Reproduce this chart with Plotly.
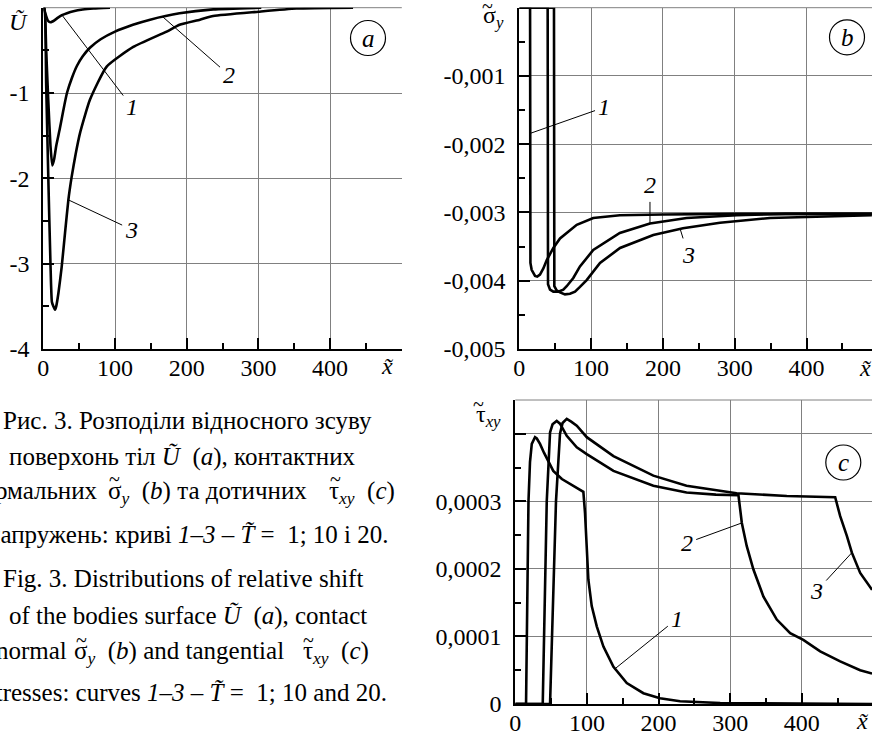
import plotly.graph_objects as go

W, H = 872, 739
FONT = "Liberation Serif, Times New Roman, serif"
FS = 24
CFS = 25

# ---------------- data ----------------
# (a) relative shift U~ ; curves 1-3 : T~ = 1, 10, 20
a_x1 = [0, 2, 4, 6, 8, 10, 12, 16, 20, 26, 33, 42, 55, 70, 93]
a_y1 = [0, -0.04, -0.10, -0.145, -0.165, -0.17, -0.165, -0.145, -0.12, -0.088, -0.065, -0.042, -0.022, -0.01, 0]
a_x2 = [0, 1.5, 4, 7, 10, 12.6, 15, 18, 23, 28, 33, 40, 47, 55, 65, 80, 100, 125, 149, 190, 237, 304]
a_y2 = [0, 0, -0.5, -1.1, -1.62, -1.85, -1.78, -1.62, -1.42, -1.2, -1.0, -0.82, -0.68, -0.57, -0.47, -0.37, -0.28, -0.2, -0.14, -0.066, -0.02, 0]
a_x3 = [0, 1.5, 4, 7, 10, 12, 14, 16.3, 18, 21, 25.6, 30.3, 35, 39.6, 45, 51.2, 65, 88.4, 125.5, 172, 190, 218.5, 237, 300, 353, 432]
a_y3 = [0, 0, -0.9, -2.0, -3.0, -3.45, -3.5, -3.54, -3.5, -3.35, -3.04, -2.64, -2.25, -1.98, -1.72, -1.47, -1.08, -0.69, -0.46, -0.28, -0.2, -0.14, -0.097, -0.047, -0.01, 0]

# (b) normal contact stress sigma_y
b_x1 = [0, 15, 15.5, 17.2, 21.9, 25, 28.8, 33.5, 38.1, 47.4, 56.7, 80, 103, 140, 200, 300, 491]
b_y1 = [0, 0, -0.00374, -0.00384, -0.00393, -0.00394, -0.00391, -0.00382, -0.0037, -0.00352, -0.00338, -0.00318, -0.00308, -0.00304, -0.00303, -0.00302, -0.00302]
b_x2 = [0, 39.5, 40, 42.8, 47.4, 54.3, 61.3, 66, 75.2, 84.5, 103, 140, 182, 233, 303, 371, 491]
b_y2 = [0, 0, -0.00405, -0.00413, -0.00416, -0.00416, -0.00413, -0.00408, -0.00396, -0.00379, -0.00355, -0.0033, -0.00316, -0.00308, -0.00304, -0.00302, -0.00302]
b_x3 = [0, 48.3, 48.8, 52, 56.7, 63.6, 70.6, 77.6, 84.5, 93.8, 112.4, 140.3, 186.6, 228, 279.5, 349, 491]
b_y3 = [0, 0, -0.00408, -0.00414, -0.00417, -0.0042, -0.00419, -0.00416, -0.00409, -0.00399, -0.00374, -0.00352, -0.00333, -0.00323, -0.00315, -0.00308, -0.00304]

# (c) tangential contact stress tau_xy
c_x1 = [0, 15, 18.4, 20.5, 23, 27.5, 30, 34.5, 40, 44, 53, 65, 81, 95, 97.3, 99.7, 102, 106.7, 113.7, 123, 137, 155.6, 178.8, 202, 230, 286, 332, 400, 498]
c_y1 = [0, 0, 0.000300, 0.000358, 0.000385, 0.000395, 0.000393, 0.000385, 0.000372, 0.000363, 0.000345, 0.000333, 0.000323, 0.000314,
        0.000283, 0.000234, 0.000184, 0.000145, 0.000115, 0.000085, 0.000055, 0.000031, 0.000016, 0.0000085, 0.000004, 0.0000015, 0.000001, 0.0000003, 0]
c_x2 = [0, 38.3, 43.9, 48.5, 52, 57.8, 62.4, 71.8, 85.8, 99.7, 137, 192.7, 239, 280, 311.5, 316.2, 323, 332.4, 346.4, 365, 383.7, 402, 425.6, 453.5, 481.4, 498]
c_y2 = [0, 0, 0.000300, 0.000402, 0.000414, 0.000419, 0.000415, 0.000397, 0.000380, 0.000370, 0.000345, 0.000323, 0.000313, 0.000310, 0.000309,
        0.000268, 0.000234, 0.000199, 0.000159, 0.000125, 0.000105, 0.000095, 0.000078, 0.000063, 0.000050, 0.000045]
c_x3 = [0, 48.5, 56.8, 62.4, 66, 71.8, 78, 85.8, 99.7, 137, 192.7, 239, 309, 379, 446.5, 453.5, 462.8, 469.8, 481.4, 498]
c_y3 = [0, 0, 0.000300, 0.000400, 0.000416, 0.000422, 0.000418, 0.000412, 0.000395, 0.000367, 0.000338, 0.000323, 0.000312, 0.000308, 0.000306,
        0.000278, 0.000249, 0.000224, 0.000194, 0.000169]

x_ticks = [0, 100, 200, 300, 400]
x_ticktext = ["0", "100", "200", "300", "400"]
a_yticks = [-4, -3, -2, -1, 0]
a_yticktext = ["-4", "-3", "-2", "-1", " "]
b_yticks = [-0.005, -0.004, -0.003, -0.002, -0.001, 0]
b_yticktext = ["-0,005", "-0,004", "-0,003", "-0,002", "-0,001", " "]
c_yticks = [0, 0.0001, 0.0002, 0.0003, 0.0004]
c_yticktext = ["0", "0,0001", "0,0002", "0,0003", " "]

# caption segments: (text, x_px, xanchor, y_px)
caption = [
    ("Рис. 3. Розподіли відносного зсуву", 0.7, "left", 420),
    ("поверхонь тіл <i>Ũ</i>  (<i>a</i>), контактних", 7.3, "left", 457),
    ("нормальних", 99.5, "right", 490),
    ("σ<sub><i>y</i></sub>  (<i>b</i>) та дотичних", 105.7, "left", 492),
    ("τ<sub><i>xy</i></sub>  (<i>c</i>)", 327, "left", 492),
    ("напружень: криві <i>1–3</i> – <i>T̃</i> =  1; 10 і 20.", 391, "right", 534),
    ("Fig. 3. Distributions of relative shift", 0.7, "left", 578),
    ("of the bodies surface <i>Ũ</i>  (<i>a</i>), contact", 7.3, "left", 615.5),
    ("normal", 69.3, "right", 650.5),
    ("σ<sub><i>y</i></sub>  (<i>b</i>) and tangential", 72.3, "left", 652.5),
    ("τ<sub><i>xy</i></sub>  (<i>c</i>)", 300.7, "left", 652.5),
    ("stresses: curves <i>1–3</i> – <i>T̃</i> =  1; 10 and 20.", 389, "right", 692),
]
# tildes over sigma / tau in the caption (x_px, y_px)
caption_tildes = [(114.5, 479), (335, 479), (81, 640), (308.5, 640)]

# ---------------- layout helpers ----------------
def px(p):
    return p / W

def py(p):
    return 1 - p / H

GRID = "#808080"

def xaxis_cfg(dom, rng, anchor):
    return dict(domain=dom, range=rng, anchor=anchor, automargin=False, showline=True, linecolor="black", linewidth=2,
                showgrid=True, gridcolor=GRID, gridwidth=1, zeroline=False,
                tickmode="array", tickvals=x_ticks, ticktext=x_ticktext,
                ticks="inside", ticklen=11, tickwidth=2, tickcolor="black",
                minor=dict(ticks="inside", ticklen=6, tickwidth=2, tickcolor="black", dtick=50, tick0=0, showgrid=False),
                tickfont=dict(family=FONT, size=FS, color="black"), ticklabelstandoff=-4, fixedrange=True)

def yaxis_cfg(dom, rng, anchor, vals, text, mdt):
    return dict(domain=dom, range=rng, anchor=anchor, automargin=False, showline=True, linecolor="black", linewidth=2,
                showgrid=True, gridcolor=GRID, gridwidth=1, zeroline=False,
                tickmode="array", tickvals=vals, ticktext=text,
                ticks="inside", ticklen=11, tickwidth=2, tickcolor="black",
                minor=dict(ticks="inside", ticklen=6, tickwidth=2, tickcolor="black", dtick=mdt, tick0=0, showgrid=False),
                tickfont=dict(family=FONT, size=FS, color="black"), ticklabelstandoff=7, fixedrange=True)

fig = go.Figure()
line = dict(color="black", width=2.6)
for xs, ys in [(a_x1, a_y1), (a_x2, a_y2), (a_x3, a_y3)]:
    fig.add_trace(go.Scatter(x=xs, y=ys, mode="lines", line=dict(line, shape="spline", smoothing=0.5), xaxis="x", yaxis="y", showlegend=False))
for xs, ys in [(b_x1, b_y1), (b_x2, b_y2), (b_x3, b_y3)]:
    fig.add_trace(go.Scatter(x=xs, y=ys, mode="lines", line=line, xaxis="x2", yaxis="y2", showlegend=False))
for xs, ys in [(c_x1, c_y1), (c_x2, c_y2), (c_x3, c_y3)]:
    fig.add_trace(go.Scatter(x=xs, y=ys, mode="lines", line=line, xaxis="x3", yaxis="y3", showlegend=False))

ya_dom = [py(349), py(7.7)]
fig.update_layout(
    template="none",
    width=W, height=H, margin=dict(l=0, r=0, t=0, b=0, autoexpand=False),
    paper_bgcolor="white", plot_bgcolor="white", showlegend=False,
    font=dict(family=FONT, size=FS, color="black"),
    xaxis=xaxis_cfg([px(43.3), px(401.8)], [0, 500], "y"),
    yaxis=yaxis_cfg(ya_dom, [-4, 0], "x", a_yticks, a_yticktext, 0.5),
    xaxis2=xaxis_cfg([px(519.3), 1], [0, 491.2], "y2"),
    yaxis2=yaxis_cfg(ya_dom, [-0.005, 0], "x2", b_yticks, b_yticktext, 0.0005),
    xaxis3=xaxis_cfg([px(515.3), 1], [0, 497.9], "y3"),
    yaxis3=yaxis_cfg([py(704), py(400)], [0, 0.00045], "x3", c_yticks, c_yticktext, 0.00005),
)

shapes = []
for xr, yr in [("x domain", "y domain"), ("x2 domain", "y2 domain"), ("x3 domain", "y3 domain")]:
    shapes.append(dict(type="line", xref=xr, yref=yr, x0=0, x1=1, y0=1, y1=1, line=dict(color=GRID, width=1), layer="below"))

annotations = []
for letter, cx, cy in [("a", 368, 38), ("b", 847, 37.3), ("c", 843.3, 462.5)]:
    shapes.append(dict(type="circle", xref="paper", yref="paper", xsizemode="pixel", ysizemode="pixel",
                       xanchor=px(cx), yanchor=py(cy), x0=-17.5, x1=17.5, y0=-17.5, y1=17.5,
                       line=dict(color="black", width=1.2)))
    annotations.append(dict(text=f"<i>{letter}</i>", xref="paper", yref="paper", x=px(cx), y=py(cy),
                            xanchor="center", yanchor="middle", showarrow=False, font=dict(family=FONT, size=25)))

# axis titles
for txt, cx, cy in [("<i>Ũ</i>", 18, 22), ("<i>x̃</i>", 387, 366),
                    ("σ<sub><i>y</i></sub>", 493, 17), ("<i>x̃</i>", 865, 368),
                    ("τ<sub><i>xy</i></sub>", 488, 416), ("<i>x̃</i>", 862, 721)]:
    annotations.append(dict(text=txt, xref="paper", yref="paper", x=px(cx), y=py(cy), showarrow=False,
                            xanchor="center", yanchor="middle", font=dict(family=FONT, size=24)))
# tildes above sigma / tau in axis titles and captions
for cx, cy in [(487, 6), (478.5, 404)] + caption_tildes:
    annotations.append(dict(text="~", xref="paper", yref="paper", x=px(cx), y=py(cy), showarrow=False,
                            xanchor="center", yanchor="middle", font=dict(family=FONT, size=20)))

def leader(txt, xr, yr, x, y, ax, ay):
    return dict(text=f"<i>{txt}</i>", xref=xr, yref=yr, x=x, y=y, ax=ax, ay=ay, showarrow=True,
                arrowhead=0, arrowwidth=1, arrowcolor="black", standoff=0, startstandoff=2,
                font=dict(family=FONT, size=24))

annotations += [
    leader("1", "x", "y", 26, -0.086, 70, 92),
    leader("2", "x", "y", 167, -0.11, 66, 58),
    leader("3", "x", "y", 34.4, -2.25, 64, 30),
    leader("1", "x2", "y2", 15.5, -0.00184, 74, -26),
    leader("2", "x2", "y2", 182, -0.00316, 0, -38),
    leader("3", "x2", "y2", 224, -0.00324, 8, 26),
    leader("1", "x3", "y3", 139, 0.000052, 62, -50),
    leader("2", "x3", "y3", 316.2, 0.000268, -55, 20),
    leader("3", "x3", "y3", 469.8, 0.000224, -35, 38),
]

for t, xp, anc, yp in caption:
    annotations.append(dict(text=t, xref="paper", yref="paper", x=px(xp), y=py(yp), xanchor=anc,
                            yanchor="middle", showarrow=False, font=dict(family=FONT, size=CFS)))

fig.update_layout(shapes=shapes, annotations=annotations)
fig.write_html("out.html",
               config={"displayModeBar": False, "staticPlot": True},
               post_script="document.body.style.margin='0px';document.body.style.overflow='hidden';")
